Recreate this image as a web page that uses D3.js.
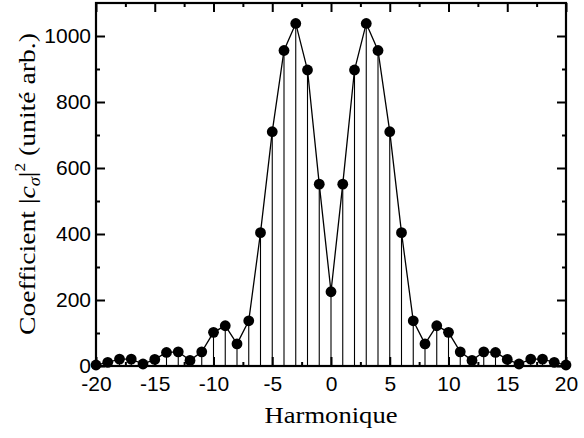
<!DOCTYPE html>
<html>
<head>
<meta charset="utf-8">
<script src="https://cdn.jsdelivr.net/npm/d3@7"></script>
<style>
  html, body { margin: 0; padding: 0; background: #fff; }
  svg { display: block; }
</style>
</head>
<body>
<svg id="chart" width="584" height="438"></svg>
<script>
// Data
const harmonics = d3.range(-20, 21);
const coefficients = [
  3, 11, 21, 21, 6, 20, 41, 43, 17, 43,
  102, 122, 67, 137, 404, 710, 956, 1038, 897, 551,
  225,
  551, 897, 1038, 956, 710, 404, 137, 67, 122, 102,
  43, 17, 43, 41, 20, 6, 21, 21, 11, 3
];
const xMajorTicks = [-20, -15, -10, -5, 0, 5, 10, 15, 20];
const xMinorTicks = [-17.5, -12.5, -7.5, -2.5, 2.5, 7.5, 12.5, 17.5];
const yMajorTicks = [0, 200, 400, 600, 800, 1000];
const yMinorTicks = [100, 300, 500, 700, 900];
const xTitle = "Harmonique";

const data = harmonics.map((h, i) => ({ h, v: coefficients[i] }));

const svg = d3.select("#chart");
const pLeft = 96, pRight = 566, pTop = 3, pBottom = 366;

const x = d3.scaleLinear().domain([-20, 20]).range([pLeft, pRight]);
const y = d3.scaleLinear().domain([0, 1100]).range([pBottom, pTop]);

const tickFont = "'Liberation Sans', Arial, Helvetica, sans-serif";
const serif = "'Liberation Serif', 'Times New Roman', serif";
const fmt = d => String(d);

function styleAxis(g) {
  g.select(".domain").remove();
  g.selectAll("line").attr("stroke", "#000").attr("stroke-width", 2);
  g.selectAll("text").attr("font-family", tickFont).attr("font-size", 21).attr("fill", "#000");
}

// Bottom axis
svg.append("g").attr("transform", `translate(0,${pBottom})`)
  .call(d3.axisBottom(x).tickValues(xMajorTicks).tickSize(-9).tickPadding(10).tickFormat(fmt))
  .call(styleAxis);
svg.append("g").attr("transform", `translate(0,${pBottom})`)
  .call(d3.axisBottom(x).tickValues(xMinorTicks).tickSize(-4).tickFormat(""))
  .call(styleAxis);
// Top axis
svg.append("g").attr("transform", `translate(0,${pTop})`)
  .call(d3.axisTop(x).tickValues(xMajorTicks).tickSize(-9).tickFormat(""))
  .call(styleAxis);
svg.append("g").attr("transform", `translate(0,${pTop})`)
  .call(d3.axisTop(x).tickValues(xMinorTicks).tickSize(-4).tickFormat(""))
  .call(styleAxis);
// Left axis
svg.append("g").attr("transform", `translate(${pLeft},0)`)
  .call(d3.axisLeft(y).tickValues(yMajorTicks).tickSize(-9).tickPadding(5).tickFormat(fmt))
  .call(styleAxis);
svg.append("g").attr("transform", `translate(${pLeft},0)`)
  .call(d3.axisLeft(y).tickValues(yMinorTicks).tickSize(-4).tickFormat(""))
  .call(styleAxis);
// Right axis
svg.append("g").attr("transform", `translate(${pRight},0)`)
  .call(d3.axisRight(y).tickValues(yMajorTicks).tickSize(-9).tickFormat(""))
  .call(styleAxis);
svg.append("g").attr("transform", `translate(${pRight},0)`)
  .call(d3.axisRight(y).tickValues(yMinorTicks).tickSize(-4).tickFormat(""))
  .call(styleAxis);

// Frame
svg.append("rect")
  .attr("x", pLeft).attr("y", pTop)
  .attr("width", pRight - pLeft).attr("height", pBottom - pTop)
  .attr("fill", "none").attr("stroke", "#000").attr("stroke-width", 2.2);

// Stems
svg.append("g").selectAll("line").data(data).join("line")
  .attr("x1", d => x(d.h)).attr("x2", d => x(d.h))
  .attr("y1", d => y(d.v)).attr("y2", y(0))
  .attr("stroke", "#000").attr("stroke-width", 1.1);

// Connecting line
svg.append("path").datum(data)
  .attr("d", d3.line().x(d => x(d.h)).y(d => y(d.v)))
  .attr("fill", "none").attr("stroke", "#000").attr("stroke-width", 1.3);

// Markers
svg.append("g").selectAll("circle").data(data).join("circle")
  .attr("cx", d => x(d.h)).attr("cy", d => y(d.v)).attr("r", 5.4)
  .attr("fill", "#000");

// X title
svg.append("text")
  .attr("x", (pLeft + pRight) / 2).attr("y", 423)
  .attr("text-anchor", "middle")
  .attr("font-family", serif).attr("font-size", 24)
  .attr("textLength", 133).attr("lengthAdjust", "spacingAndGlyphs")
  .text(xTitle);

// Y title
const yt = svg.append("text")
  .attr("transform", "translate(35,184) rotate(-90)")
  .attr("text-anchor", "middle")
  .attr("font-family", serif).attr("font-size", 24)
  .attr("textLength", 302).attr("lengthAdjust", "spacingAndGlyphs");
yt.append("tspan").text("Coefficient |");
yt.append("tspan").attr("font-style", "italic").text("c");
yt.append("tspan").attr("font-style", "italic").attr("font-size", 16).attr("dy", 5).text("σ");
yt.append("tspan").attr("dy", -5).text("|");
yt.append("tspan").attr("font-size", 15).attr("dy", -10).text("2");
yt.append("tspan").attr("dy", 10).text(" (unité arb.)");
</script>
</body>
</html>
